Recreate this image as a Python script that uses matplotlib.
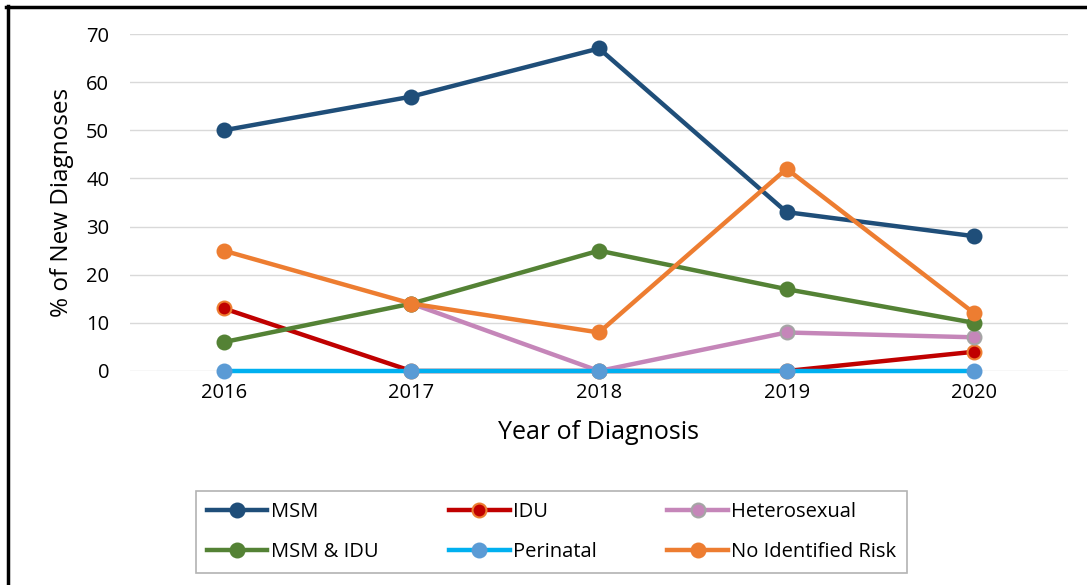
import matplotlib
matplotlib.use("Agg")
import matplotlib.pyplot as plt
from matplotlib.lines import Line2D
import numpy as np

years = ["2016", "2017", "2018", "2019", "2020"]
msm = [50, 57, 67, 33, 28]
idu = [13, 0, 0, 0, 4]
hetero = [np.nan, 14, 0, 8, 7]
msm_idu = [6, 14, 25, 17, 10]
perinatal = [0, 0, 0, 0, 0]
nir = [25, 14, 8, 42, 12]
yticks = [0, 10, 20, 30, 40, 50, 60, 70]

plt.rcParams['font.family'] = ['Open Sans', 'DejaVu Sans']

W, H = 1087, 585
fig = plt.figure(figsize=(W/100, H/100), dpi=100)
ax = fig.add_axes([130/W, 1-371/H, (1068-130)/W, (371-34)/H])

x = np.arange(len(years))
series = [
    ("MSM", msm, "#1F4E79", "#1F4E79", "#1F4E79"),
    ("IDU", idu, "#C00000", "#C00000", "#ED7D31"),
    ("Heterosexual", hetero, "#C586B9", "#C586B9", "#A5A5A5"),
    ("MSM & IDU", msm_idu, "#548235", "#548235", "#548235"),
    ("Perinatal", perinatal, "#00B0F0", "#5B9BD5", "#5B9BD5"),
    ("No Identified Risk", nir, "#ED7D31", "#ED7D31", "#ED7D31"),
]
handles = {}
for i, (name, vals, lc, mfc, mec) in enumerate(series):
    h, = ax.plot(x, vals, color=lc, lw=3.2, marker='o', markersize=10,
                 markerfacecolor=mfc, markeredgecolor=mec, markeredgewidth=1.5,
                 label=name, zorder=3+i, clip_on=False)
    handles[name] = h

ax.set_xlim(-0.5, len(years)-0.5)
ax.set_ylim(0, 70)
ax.set_yticks(yticks)
ax.set_xticks(x)
ax.set_xticklabels(years)
ax.grid(axis='y', color='#D9D9D9', lw=1)
ax.set_axisbelow(True)
for s in ax.spines.values():
    s.set_visible(False)
ax.tick_params(length=0, labelsize=14.5, colors='#000000', pad=9)
ax.tick_params(axis='y', pad=15)
ax.set_xlabel("Year of Diagnosis", fontsize=18, labelpad=12)
ax.set_ylabel("% of New Diagnoses", fontsize=17.5, labelpad=12)
ax.yaxis.set_label_coords((74-130)/(1068-130), 0.5)

order = ["MSM", "MSM & IDU", "IDU", "Perinatal", "Heterosexual", "No Identified Risk"]
leg = fig.legend([handles[n] for n in order], order, ncol=3,
                 loc='lower left', bbox_to_anchor=(196/W, 1-573/H, (907-196)/W, (573-489)/H),
                 mode='expand', fontsize=14.5, frameon=True, fancybox=False,
                 edgecolor='#A0A0A0', handlelength=3.0, handletextpad=0.15,
                 borderaxespad=0, labelspacing=1.0, borderpad=0.55)
leg.get_frame().set_linewidth(1.2)

fig.add_artist(Line2D([7.5/W, 7.5/W], [0, 1-6/H], color='black', lw=2.5, transform=fig.transFigure))
fig.add_artist(Line2D([6/W, 1], [1-6.5/H, 1-6.5/H], color='black', lw=2.5, transform=fig.transFigure))

fig.savefig("out.png", dpi=100)
